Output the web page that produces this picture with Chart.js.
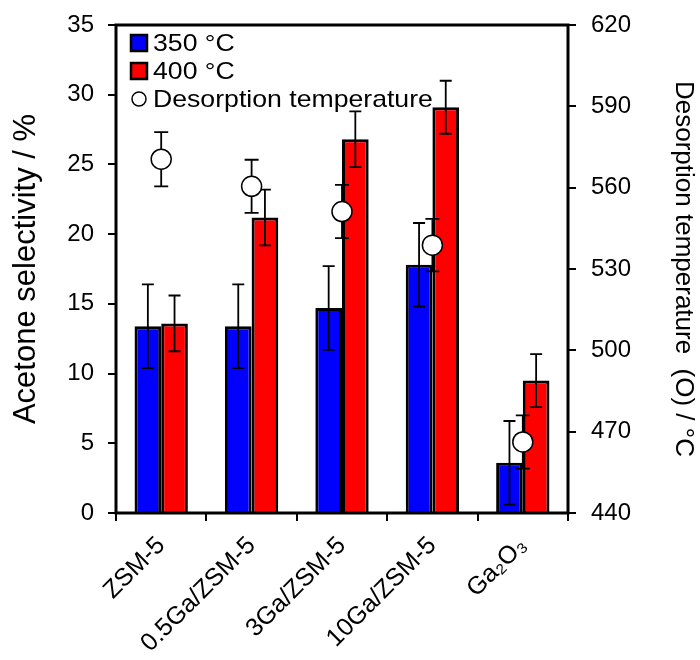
<!DOCTYPE html>
<html>
<head>
<meta charset="utf-8">
<script src="https://cdn.jsdelivr.net/npm/chart.js@4.4.1/dist/chart.umd.min.js"></script>
<style>
  html, body { margin: 0; padding: 0; background: #fff; }
  #wrap { width: 700px; height: 660px; }
</style>
</head>
<body>
<div id="wrap"><canvas id="chart" width="700" height="660"></canvas></div>
<script>
// catalysts on the x axis
const catalysts = ["ZSM-5", "0.5Ga/ZSM-5", "3Ga/ZSM-5", "10Ga/ZSM-5", "Ga\u2082O\u2083"];

// acetone selectivity (%) and its error
const sel350 = [13.4, 13.4, 14.7, 17.8, 3.6];
const sel350Err = [3.0, 3.0, 3.0, 3.0, 3.0];
const sel400 = [13.6, 21.2, 26.8, 29.1, 9.5];
const sel400Err = [2.0, 2.0, 2.0, 1.9, 1.9];

// desorption temperature (°C) and its error
const desorpT = [570.5, 560.5, 551.2, 538.8, 466.2];
const desorpTErr = [10, 9.8, 9.8, 9.7, 9.8];

// axis ticks
const leftTicks = [0, 5, 10, 15, 20, 25, 30, 35];
const rightTicks = [440, 470, 500, 530, 560, 590, 620];

const FONT = "'Liberation Sans', Arial, sans-serif";

// draws the error bars through the chart's own scales
const errorBars = {
  id: "errorBars",
  beforeDatasetDraw(chart, args) {
    if (chart.data.datasets[args.index].errors && chart.data.datasets[args.index].type === "line") {
      drawErrors(chart, args.index, 14);
    }
  },
  afterDatasetDraw(chart, args) {
    if (chart.data.datasets[args.index].errors && chart.data.datasets[args.index].type !== "line") {
      drawErrors(chart, args.index, 12);
    }
  }
};

function drawErrors(chart, i, cap) {
  const ds = chart.data.datasets[i];
  const meta = chart.getDatasetMeta(i);
  const scale = chart.scales[ds.yAxisID || "y"];
  const ctx = chart.ctx;
  ctx.save();
  ctx.strokeStyle = "#000";
  ctx.lineWidth = 1.8;
  meta.data.forEach((el, j) => {
    const v = ds.data[j];
    const e = ds.errors[j];
    const top = scale.getPixelForValue(v + e);
    const bot = scale.getPixelForValue(v - e);
    const x = el.x;
    ctx.beginPath();
    ctx.moveTo(x, top); ctx.lineTo(x, bot);
    ctx.moveTo(x - cap / 2, top); ctx.lineTo(x + cap / 2, top);
    ctx.moveTo(x - cap / 2, bot); ctx.lineTo(x + cap / 2, bot);
    ctx.stroke();
  });
  ctx.restore();
}

// frame round the plot and the legend inside it
const frameAndLegend = {
  id: "frameAndLegend",
  afterDraw(chart) {
    const { ctx, chartArea: a } = chart;
    ctx.save();
    ctx.strokeStyle = "#000";
    ctx.lineWidth = 3;
    ctx.strokeRect(a.left, a.top, a.right - a.left, a.bottom - a.top);

    const lx = a.left + 15;
    const rows = [a.top + 18, a.top + 46, a.top + 74];
    ctx.lineWidth = 2.5;
    [["#0000ff", "350 \u00b0C"], ["#ff0000", "400 \u00b0C"]].forEach(([c, t], k) => {
      ctx.fillStyle = c;
      ctx.fillRect(lx, rows[k] - 8, 16, 16);
      ctx.strokeRect(lx, rows[k] - 8, 16, 16);
    });
    ctx.lineWidth = 1.5;
    ctx.fillStyle = "#fff";
    ctx.beginPath();
    ctx.arc(lx + 8, rows[2], 7, 0, Math.PI * 2);
    ctx.fill();
    ctx.stroke();

    // the source text is a little wider than Arial
    ctx.fillStyle = "#000";
    ctx.font = "24px " + FONT;
    ctx.textBaseline = "middle";
    ctx.translate(lx + 22, 0);
    ctx.scale(1.11, 1);
    ctx.fillText("350 \u00b0C", 0, rows[0] + 1);
    ctx.fillText("400 \u00b0C", 0, rows[1] + 1);
    ctx.fillText("Desorption temperature", 0, rows[2] + 1);
    ctx.restore();
  }
};

const tickCommon = {
  color: "#000",
  font: { size: 24, family: FONT }
};

// keep the plot box where the reference has it
function fixY(width) {
  return s => { s.width = width; s.paddingTop = 10; s.paddingBottom = 0; };
}

new Chart(document.getElementById("chart"), {
  data: {
    labels: catalysts,
    datasets: [
      {
        type: "line",
        label: "Desorption temperature",
        data: desorpT,
        errors: desorpTErr,
        yAxisID: "y2",
        showLine: false,
        pointRadius: 10,
        pointBackgroundColor: "#fff",
        pointBorderColor: "#000",
        pointBorderWidth: 1.5,
        order: 0
      },
      {
        type: "bar",
        label: "350 \u00b0C",
        data: sel350,
        errors: sel350Err,
        yAxisID: "y",
        backgroundColor: "#0000ff",
        borderColor: "#000",
        borderWidth: 3,
        order: 1
      },
      {
        type: "bar",
        label: "400 \u00b0C",
        data: sel400,
        errors: sel400Err,
        yAxisID: "y",
        backgroundColor: "#ff0000",
        borderColor: "#000",
        borderWidth: 3,
        order: 2
      }
    ]
  },
  options: {
    responsive: false,
    animation: false,
    layout: { padding: { top: 25, left: 0, right: 0, bottom: 0 } },
    datasets: { bar: { barPercentage: 1, categoryPercentage: 0.59 } },
    plugins: { legend: { display: false }, tooltip: { enabled: false } },
    scales: {
      x: {
        offset: true,
        grid: { offset: true, drawOnChartArea: false, color: "#000", lineWidth: 2, tickLength: 8 },
        border: { display: false },
        ticks: { ...tickCommon, font: { size: 25, family: FONT }, minRotation: 45, maxRotation: 45, padding: 10 },
        afterFit(s) { s.height = 147; }
      },
      y: {
        position: "left",
        min: 0, max: 35,
        afterBuildTicks(s) { s.ticks = leftTicks.map(v => ({ value: v })); },
        grid: { drawOnChartArea: false, color: "#000", lineWidth: 2, tickLength: 8 },
        border: { display: false },
        ticks: { ...tickCommon, padding: 14 },
        title: { display: true, text: "Acetone selectivity / %", color: "#000", font: { size: 31, family: FONT }, padding: { top: 8, bottom: 0 } },
        afterFit: fixY(116)
      },
      y2: {
        position: "right",
        min: 440, max: 620,
        afterBuildTicks(s) { s.ticks = rightTicks.map(v => ({ value: v })); },
        grid: { drawOnChartArea: false, color: "#000", lineWidth: 2, tickLength: 8 },
        border: { display: false },
        ticks: { ...tickCommon, padding: 15 },
        title: { display: true, text: "Desorption temperature  (O) / \u00b0C", color: "#000", font: { size: 26, family: FONT }, padding: { top: 1, bottom: 0 } },
        afterFit: fixY(132)
      }
    }
  },
  plugins: [errorBars, frameAndLegend]
});
</script>
</body>
</html>
